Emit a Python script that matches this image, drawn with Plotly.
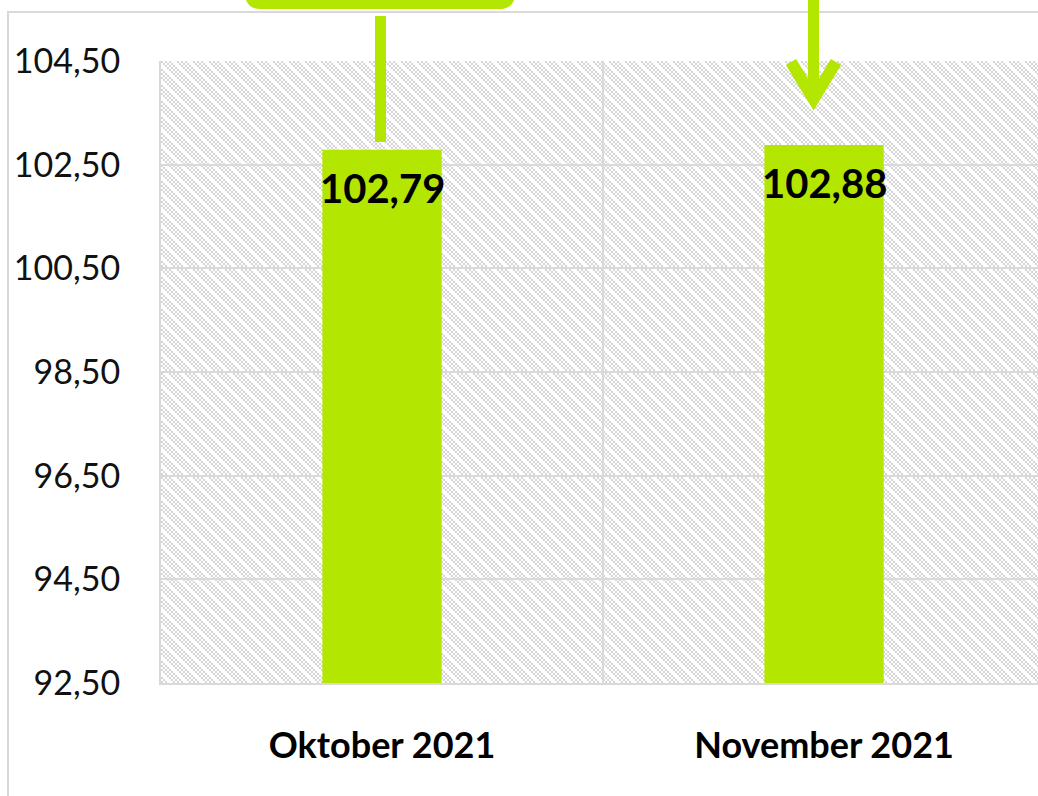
import plotly.graph_objects as go
import base64

categories = ["Oktober 2021", "November 2021"]
values = [102.79, 102.88]
y_ticks = [92.5, 94.5, 96.5, 98.5, 100.5, 102.5, 104.5]

GREEN = "#b3e600"
GRID = "#d9d9d9"

W, H = 1038, 796
L, T, B = 161, 61, 683          # plot area edges in window pixels
PW, PH = 877, B - T


def px(x):
    return (x - L) / PW


def py(y):
    return (B - y) / PH


# hatched plot background (SVG tile pattern)
cells = []
for r in range(8):
    for c in range(8):
        if (c + r) % 2 == 0 and ((c - r) % 8) < 5:
            cells.append(f'<rect x="{c*2}" y="{r*2}" width="2" height="2" fill="#d6d6d6"/>')
svg = (
    f'<svg xmlns="http://www.w3.org/2000/svg" width="{PW}" height="{PH}" shape-rendering="crispEdges">'
    '<defs><pattern id="p" width="16" height="16" patternUnits="userSpaceOnUse">'
    '<rect width="16" height="16" fill="#ffffff"/>' + "".join(cells) +
    '</pattern></defs>'
    f'<rect width="{PW}" height="{PH}" fill="url(#p)"/></svg>'
)
bg_src = "data:image/svg+xml;base64," + base64.b64encode(svg.encode()).decode()

fig = go.Figure()
fig.add_trace(go.Bar(
    x=categories, y=values,
    marker=dict(color=GREEN, line=dict(width=0)),
    width=0.27, hoverinfo="skip",
))

for cat, v in zip(categories, values):
    fig.add_annotation(
        x=cat, y=v, xref="x", yref="y",
        text="<b>" + f"{v:.2f}".replace(".", ",") + "</b>",
        showarrow=False, yanchor="top", yshift=-12,
        font=dict(family="Lato", size=40, color="#000000"),
    )

shapes = []
# outer chart border
shapes.append(dict(type="rect", xref="paper", yref="paper",
                   x0=px(8), x1=px(1060), y0=py(820), y1=py(12),
                   line=dict(color=GRID, width=2), fillcolor="rgba(0,0,0,0)"))
# callout box (cut at top)
x0, x1, yb, yt, rr = 245, 515, 9, -40, 16
path = (f"M {px(x0)},{py(yt)} L {px(x0)},{py(yb-rr)} "
        f"Q {px(x0)},{py(yb)} {px(x0+rr)},{py(yb)} "
        f"L {px(x1-rr)},{py(yb)} Q {px(x1)},{py(yb)} {px(x1)},{py(yb-rr)} "
        f"L {px(x1)},{py(yt)} Z")
shapes.append(dict(type="path", xref="paper", yref="paper", path=path,
                   fillcolor=GREEN, line=dict(width=0)))
# connector line from callout
shapes.append(dict(type="rect", xref="paper", yref="paper",
                   x0=px(375), x1=px(386), y0=py(142), y1=py(16),
                   fillcolor=GREEN, line=dict(width=0)))
# arrow shaft
shapes.append(dict(type="rect", xref="paper", yref="paper",
                   x0=px(808), x1=px(819), y0=py(98), y1=py(-20),
                   fillcolor=GREEN, line=dict(width=0)))
# arrow head (chevron)
shapes.append(dict(type="path", xref="paper", yref="paper",
                   path=f"M {px(791)},{py(62)} L {px(813.5)},{py(99)} L {px(836)},{py(62)}",
                   line=dict(color=GREEN, width=12), fillcolor="rgba(0,0,0,0)"))

fig.update_layout(
    width=W, height=H,
    margin=dict(l=L, r=W - L - PW, t=T, b=H - B, pad=0),
    paper_bgcolor="white",
    plot_bgcolor="rgba(0,0,0,0)",
    separators=", ",
    showlegend=False,
    shapes=shapes,
    images=[dict(source=bg_src, xref="paper", yref="paper", x=0, y=1,
                 sizex=1, sizey=1, sizing="stretch", xanchor="left",
                 yanchor="top", layer="below")],
    xaxis=dict(
        type="category", range=[-0.5, 1.484], tickson="boundaries",
        showgrid=True, gridcolor=GRID, gridwidth=2,
        showline=True, linecolor=GRID, linewidth=2,
        ticks="", ticklabelstandoff=30,
        tickfont=dict(family="Lato", size=36, color="#000000", weight="bold"),
        fixedrange=True,
    ),
    yaxis=dict(
        range=[92.5, 104.5], tickmode="array", tickvals=y_ticks,
        ticktext=[f"{t:.2f}".replace(".", ",") for t in y_ticks],
        showgrid=True, gridcolor=GRID, gridwidth=2,
        showline=True, linecolor=GRID, linewidth=2,
        zeroline=False, ticks="", ticklabelstandoff=32,
        tickfont=dict(family="Lato", size=34, color="#111111"),
        fixedrange=True,
    ),
)

fig.write_html(
    "out.html",
    config={"displayModeBar": False, "staticPlot": True},
    post_script="document.body.style.margin='0';document.body.style.overflow='hidden';",
)
